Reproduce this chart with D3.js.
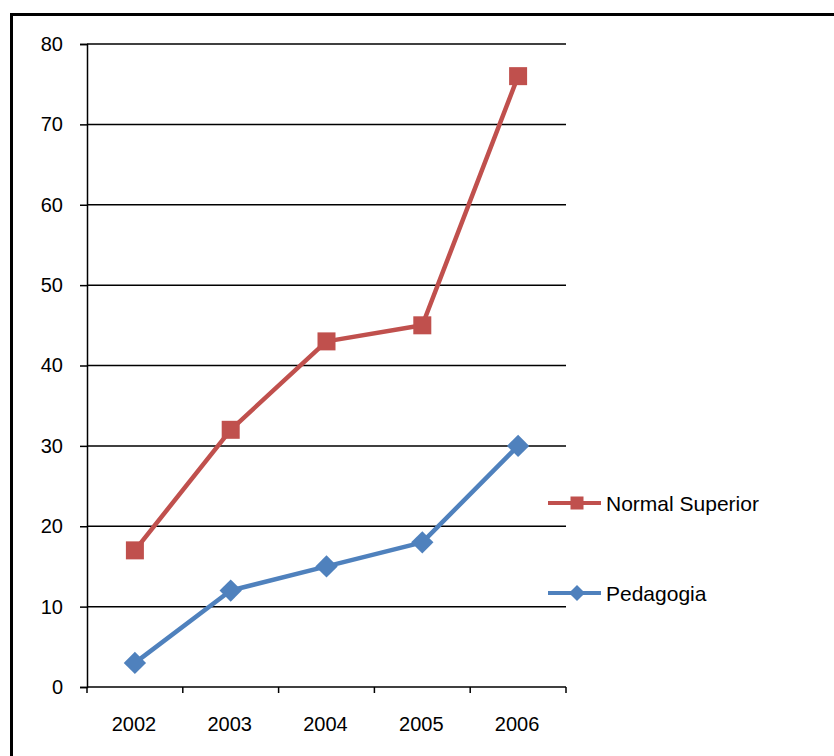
<!DOCTYPE html>
<html>
<head>
<meta charset="utf-8">
<script src="https://cdn.jsdelivr.net/npm/d3@7"></script>
<style>
  html, body { margin: 0; padding: 0; background: #fff; }
  svg { display: block; font-family: "Liberation Sans", Arial, sans-serif; }
</style>
</head>
<body>
<svg id="chart" width="834" height="756"></svg>
<script>
// Enrolment by programme, 2002–2006
const years = ["2002", "2003", "2004", "2005", "2006"];
const normalSuperior = [17, 32, 43, 45, 76];
const pedagogia = [3, 12, 15, 18, 30];
const yTicks = [0, 10, 20, 30, 40, 50, 60, 70, 80];

const series = [
  { name: "Normal Superior", values: normalSuperior, color: "#C0504D", marker: "square" },
  { name: "Pedagogia", values: pedagogia, color: "#4F81BD", marker: "diamond" }
];

const svg = d3.select("#chart");

// outer frame
svg.append("rect")
  .attr("x", 11.5).attr("y", 14.5)
  .attr("width", 840).attr("height", 760)
  .attr("fill", "none").attr("stroke", "#000").attr("stroke-width", 3);

const plot = { left: 87, right: 566, top: 44, bottom: 687 };

const x = d3.scaleBand().domain(years).range([plot.left, plot.right]).padding(0);
const y = d3.scaleLinear().domain([0, 80]).range([plot.bottom, plot.top]);

// horizontal gridlines
svg.append("g")
  .selectAll("line")
  .data(yTicks.filter(t => t > 0))
  .join("line")
  .attr("x1", plot.left).attr("x2", plot.right)
  .attr("y1", d => y(d)).attr("y2", d => y(d))
  .attr("stroke", "#000").attr("stroke-width", 1.5);

// y axis
const yAxis = svg.append("g")
  .attr("transform", `translate(${plot.left},0)`)
  .call(d3.axisLeft(y).tickValues(yTicks).tickSize(7).tickPadding(17));
yAxis.select(".domain").attr("stroke", "#000").attr("stroke-width", 1.5);
yAxis.selectAll(".tick line").attr("stroke", "#000").attr("stroke-width", 1.5);
yAxis.selectAll(".tick text").attr("font-size", 20).attr("fill", "#000")
  .attr("font-family", "Liberation Sans, Arial, sans-serif");

// x axis with tick marks on category boundaries
const xAxisG = svg.append("g").attr("transform", `translate(0,${plot.bottom})`);
xAxisG.append("line")
  .attr("x1", plot.left).attr("x2", plot.right)
  .attr("stroke", "#000").attr("stroke-width", 1.5);
const boundaries = years.map(d => x(d)).concat([x(years[years.length - 1]) + x.bandwidth()]);
xAxisG.selectAll(".bt")
  .data(boundaries)
  .join("line")
  .attr("class", "bt")
  .attr("x1", d => d).attr("x2", d => d)
  .attr("y1", 0).attr("y2", 6)
  .attr("stroke", "#000").attr("stroke-width", 1.5);
xAxisG.selectAll("text")
  .data(years)
  .join("text")
  .attr("x", d => x(d) + x.bandwidth() / 2 - 1)
  .attr("y", 44)
  .attr("text-anchor", "middle")
  .attr("font-size", 20)
  .attr("fill", "#000")
  .text(d => d);

const cx = d => x(d) + x.bandwidth() / 2;

function drawMarker(g, kind, color, px, py, s) {
  if (kind === "square") {
    g.append("rect")
      .attr("x", px - s / 2).attr("y", py - s / 2)
      .attr("width", s).attr("height", s)
      .attr("fill", color);
  } else {
    const r = s * 0.62;
    g.append("path")
      .attr("d", `M${px},${py - r}L${px + r},${py}L${px},${py + r}L${px - r},${py}Z`)
      .attr("fill", color);
  }
}

const line = d3.line().x((d, i) => cx(years[i])).y(d => y(d));

series.forEach(s => {
  const g = svg.append("g");
  g.append("path")
    .datum(s.values)
    .attr("d", line)
    .attr("fill", "none")
    .attr("stroke", s.color)
    .attr("stroke-width", 4.5)
    .attr("stroke-linejoin", "round");
  s.values.forEach((v, i) => drawMarker(g, s.marker, s.color, cx(years[i]), y(v), 18));
});

// legend
const legend = [
  { s: series[0], y: 503 },
  { s: series[1], y: 593 }
];
legend.forEach(item => {
  const g = svg.append("g");
  g.append("line")
    .attr("x1", 548).attr("x2", 601)
    .attr("y1", item.y).attr("y2", item.y)
    .attr("stroke", item.s.color).attr("stroke-width", 4);
  drawMarker(g, item.s.marker, item.s.color, 577, item.y, 13);
  g.append("text")
    .attr("x", 606).attr("y", item.y + 8)
    .attr("font-size", 21).attr("fill", "#000")
    .text(item.s.name);
});
</script>
</body>
</html>
